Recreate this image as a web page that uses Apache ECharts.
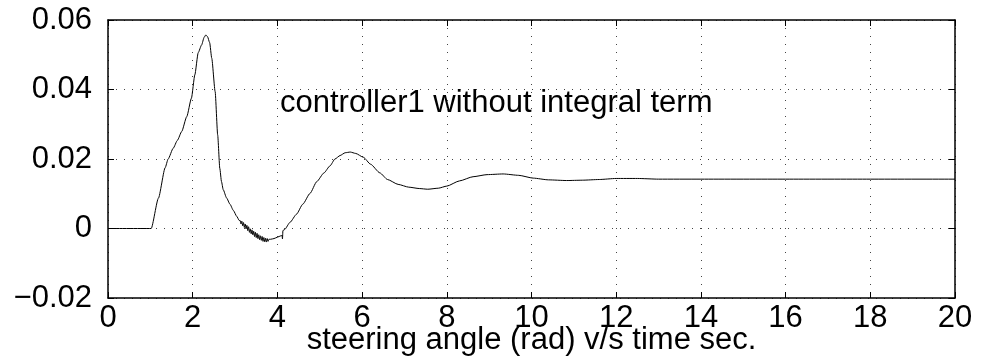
<!DOCTYPE html>
<html>
<head>
<meta charset="utf-8">
<script src="https://cdn.jsdelivr.net/npm/echarts@6/dist/echarts.min.js"></script>
<style>html,body{margin:0;padding:0;background:#fff}#c{width:981px;height:360px}</style>
</head>
<body>
<div id="c"></div>
<script>
var timeSec = [0, 1.02, 1.19, 1.35, 1.42, 1.54, 1.64, 1.74, 1.86, 1.97, 2.05, 2.13, 2.21, 2.27, 2.31, 2.35, 2.40, 2.45, 2.53, 2.59, 2.64, 2.68, 2.72, 2.80, 2.88, 2.96, 3.04, 3.10,
  3.12, 3.14, 3.16, 3.18, 3.20, 3.22, 3.24, 3.26, 3.28, 3.30, 3.32, 3.34, 3.36, 3.38, 3.40, 3.42, 3.44, 3.46, 3.48, 3.50, 3.52, 3.54, 3.56, 3.58, 3.60, 3.62, 3.64, 3.66, 3.68, 3.70, 3.72, 3.74, 3.76, 3.78, 3.80,
  3.84, 3.92, 4.00, 4.08, 4.11, 4.12, 4.13, 4.17, 4.30, 4.45, 4.60, 4.77, 4.93, 5.10, 5.24, 5.36, 5.48, 5.60, 5.72, 5.85, 6.03, 6.20, 6.42, 6.60, 6.85, 7.10, 7.35, 7.55, 7.80, 8.00, 8.30, 8.62, 8.95, 9.33, 9.70, 10.04, 10.40, 10.83, 11.20, 11.60, 12.00, 12.50, 13.00, 14.00, 16.00, 18.00, 20.00];
var steeringAngle = [0, 0, 0.0087, 0.0175, 0.0200, 0.0231, 0.0254, 0.0279, 0.0322, 0.0375, 0.0442, 0.0506, 0.0528, 0.0550, 0.0557, 0.0552, 0.0535, 0.0490, 0.0394, 0.0269, 0.0173, 0.0135, 0.0112, 0.0088, 0.0070, 0.0052, 0.0035, 0.0023,
  0.0023, 0.0013, 0.0021, 0.0008, 0.0017, 0.0003, 0.0013, -0.0001, 0.0009, -0.0006, 0.0005, -0.0011, -0.0001, -0.0015, -0.0004, -0.0018, -0.0008, -0.0023, -0.0011, -0.0026, -0.0014, -0.0029, -0.0018, -0.0032, -0.0021, -0.0034, -0.0023, -0.0037, -0.0026, -0.0038, -0.0028, -0.0039, -0.0029, -0.0037, -0.0031,
  -0.0031, -0.0029, -0.0025, -0.0021, -0.0020, -0.0030, -0.0006, -0.0003, 0.0018, 0.0041, 0.0070, 0.0101, 0.0135, 0.0160, 0.0180, 0.0200, 0.0210, 0.0218, 0.0220, 0.0216, 0.0205, 0.0185, 0.0160, 0.0141, 0.0127, 0.0119, 0.0115, 0.0113, 0.0116, 0.0122, 0.0137, 0.0149, 0.0155, 0.0157, 0.0153, 0.0145, 0.0140, 0.0138, 0.0139, 0.0141, 0.0144, 0.0144, 0.0142, 0.0142, 0.0142, 0.0142, 0.0142];
var xTicks = [0, 2, 4, 6, 8, 10, 12, 14, 16, 18, 20];
var yTicks = [-0.02, 0, 0.02, 0.04, 0.06];
var annotationText = 'controller1 without integral term';
var xTitle = 'steering angle (rad) v/s time sec.';

var FONT = '"Liberation Sans", Arial, Helvetica, sans-serif';
var FS = 31;
var chart = echarts.init(document.getElementById('c'), null, {renderer: 'canvas'});
var seriesData = timeSec.map(function (t, i) { return [t, steeringAngle[i]]; });
function yFmt(v) {
  var r = Math.round(v * 100) / 100;
  if (r === 0) return '0';
  var s = Math.abs(r).toFixed(2);
  return (r < 0 ? '\u22120' : '0') + s.slice(1);
}
var dotted = {show: true, lineStyle: {color: '#444', width: 1, type: [1, 7]}};
var axLine = {show: true, onZero: false, lineStyle: {color: '#000', width: 1.5}};
var ticksIn = {show: true, inside: true, length: 6, lineStyle: {color: '#000', width: 1}};
chart.setOption({
  animation: false,
  backgroundColor: '#fff',
  grid: {left: 108, right: 26, top: 20, bottom: 62, containLabel: false, outerBoundsMode: 'none'},
  xAxis: [{
    type: 'value', position: 'bottom', min: xTicks[0], max: xTicks[xTicks.length - 1], interval: 2,
    axisLine: axLine, axisTick: ticksIn, splitLine: dotted,
    axisLabel: {color: '#000', fontFamily: FONT, fontSize: FS, margin: 5},
    name: xTitle, nameLocation: 'middle', nameGap: 27, nameMoveOverlap: false,
    nameTextStyle: {color: '#000', fontFamily: FONT, fontSize: FS}
  }, {
    type: 'value', position: 'top', min: xTicks[0], max: xTicks[xTicks.length - 1], interval: 2,
    axisLine: axLine, axisTick: ticksIn, splitLine: {show: false}, axisLabel: {show: false}
  }],
  yAxis: [{
    type: 'value', position: 'left', min: yTicks[0], max: yTicks[yTicks.length - 1], interval: 0.02,
    axisLine: axLine, axisTick: ticksIn, splitLine: dotted,
    axisLabel: {color: '#000', fontFamily: FONT, fontSize: FS, margin: 16, formatter: yFmt}
  }, {
    type: 'value', position: 'right', min: yTicks[0], max: yTicks[yTicks.length - 1], interval: 0.02,
    axisLine: axLine, axisTick: ticksIn, splitLine: {show: false}, axisLabel: {show: false}
  }],
  graphic: [{
    type: 'text', left: 280, top: 88,
    style: {text: annotationText, fill: '#000', font: FS + 'px ' + FONT}
  }],
  series: [{
    type: 'line', xAxisIndex: 0, yAxisIndex: 0, data: seriesData,
    showSymbol: false, smooth: 0.2, smoothMonotone: 'x',
    lineStyle: {color: '#000', width: 1}
  }]
});
</script>
</body>
</html>
